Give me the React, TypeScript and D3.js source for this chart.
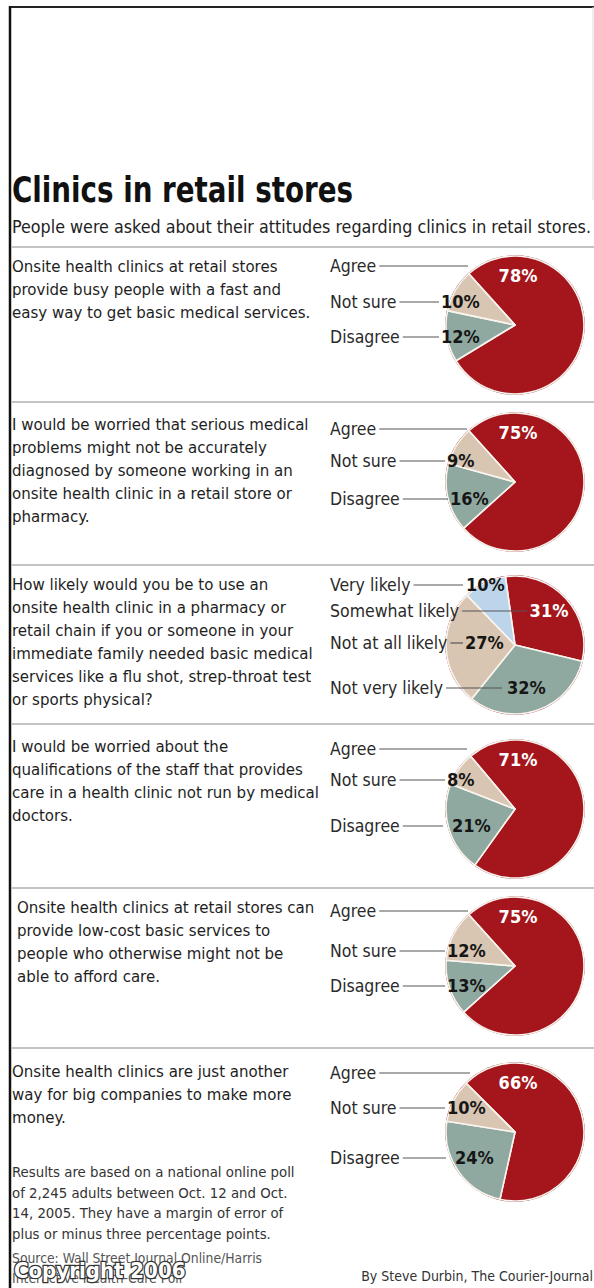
import React, { useEffect, useRef } from 'react';
import * as d3 from 'd3';

const TITLE = 'Clinics in retail stores';
const SUBTITLE = 'People were asked about their attitudes regarding clinics in retail stores.';

const QUESTIONS: string[][] = [
  ['Onsite health clinics at retail stores', 'provide busy people with a fast and', 'easy way to get basic medical services.'],
  ['I would be worried that serious medical', 'problems might not be accurately', 'diagnosed by someone working in an', 'onsite health clinic in a retail store or', 'pharmacy.'],
  ['How likely would you be to use an', 'onsite health clinic in a pharmacy or', 'retail chain if you or someone in your', 'immediate family needed basic medical', 'services like a flu shot, strep-throat test', 'or sports physical?'],
  ['I would be worried about the', 'qualifications of the staff that provides', 'care in a health clinic not run by medical', 'doctors.'],
  ['Onsite health clinics at retail stores can', 'provide low-cost basic services to', 'people who otherwise might not be', 'able to afford care.'],
  ['Onsite health clinics are just another', 'way for big companies to make more', 'money.'],
];

const AGREE_CATEGORIES = ['Agree', 'Not sure', 'Disagree'];
const LIKELY_CATEGORIES = ['Very likely', 'Somewhat likely', 'Not at all likely', 'Not very likely'];

const Q1_VALUES = [78, 10, 12];
const Q2_VALUES = [75, 9, 16];
const Q3_VALUES = [10, 31, 27, 32];
const Q4_VALUES = [71, 8, 21];
const Q5_VALUES = [75, 12, 13];
const Q6_VALUES = [66, 10, 24];

const FOOTNOTE = [
  'Results are based on a national online poll',
  'of 2,245 adults between Oct. 12 and Oct.',
  '14, 2005. They have a margin of error of',
  'plus or minus three percentage points.',
];
const SOURCE = ['Source: Wall Street Journal Online/Harris', 'Interactive Health-Care Poll'];
const COPYRIGHT = 'Copyright 2006';
const CREDIT = 'By Steve Durbin, The Courier-Journal';

// styling / layout (not data)
const RED = '#a5161c';
const BEIGE = '#d8c5b2';
const TEAL = '#8fa9a0';
const BLUE = '#bcd5ea';
const AGREE_COLORS = [RED, BEIGE, TEAL];
const LIKELY_COLORS = [BLUE, RED, BEIGE, TEAL];
const AGREE_ORDER = [0, 2, 1]; // clockwise from start
const LIKELY_ORDER = [1, 3, 2, 0];

const FONT = "'Liberation Sans Narrow', 'DejaVu Sans Condensed', 'DejaVu Sans', sans-serif";

type Section = {
  top: number; textY: number; textX: number; cy: number; startDeg: number;
  labelY: number[]; pctX: number[]; redIdx: number; lineEnd: number[];
};

const SECTIONS: Section[] = [
  { top: 247, textY: 272, textX: 12, cy: 325, startDeg: -42, labelY: [266, 302, 337], pctX: [0, 441, 441], redIdx: 0, lineEnd: [468, 439, 439] },
  { top: 402, textY: 430, textX: 12, cy: 482, startDeg: -42, labelY: [429, 461, 499], pctX: [0, 447, 450], redIdx: 0, lineEnd: [467, 445, 448] },
  { top: 565, textY: 590, textX: 12, cy: 645, startDeg: -8, labelY: [585, 611, 643, 688], pctX: [466, 0, 465, 507], redIdx: 1, lineEnd: [463, 527, 463, 502] },
  { top: 724, textY: 752, textX: 12, cy: 809, startDeg: -40, labelY: [749, 780, 826], pctX: [0, 447, 452], redIdx: 0, lineEnd: [467, 445, 443] },
  { top: 888, textY: 913, textX: 17, cy: 966, startDeg: -42, labelY: [911, 951, 986], pctX: [0, 447, 447], redIdx: 0, lineEnd: [468, 445, 445] },
  { top: 1048, textY: 1077, textX: 12, cy: 1132, startDeg: -45, labelY: [1073, 1108, 1158], pctX: [0, 447, 455], redIdx: 0, lineEnd: [470, 445, 446] },
];

const ALL_VALUES = [Q1_VALUES, Q2_VALUES, Q3_VALUES, Q4_VALUES, Q5_VALUES, Q6_VALUES];

export default function App() {
  const ref = useRef<SVGSVGElement>(null);

  useEffect(() => {
    const svg = d3.select(ref.current);
    svg.selectAll('*').remove();
    const W = 594, H = 1288;
    svg.append('rect').attr('width', W).attr('height', H).attr('fill', '#fff');

    // frame
    svg.append('line').attr('x1', 9).attr('x2', W).attr('y1', 7).attr('y2', 7).attr('stroke', '#222').attr('stroke-width', 2);
    svg.append('line').attr('x1', 10).attr('x2', 10).attr('y1', 6).attr('y2', H).attr('stroke', '#111').attr('stroke-width', 2.5);
    svg.append('line').attr('x1', 593).attr('x2', 593).attr('y1', 7).attr('y2', 200).attr('stroke', '#ddd').attr('stroke-width', 1);

    svg.append('text').attr('x', 12).attr('y', 202).text(TITLE)
      .attr('font-family', FONT).attr('font-weight', 'bold').attr('font-size', 36).attr('fill', '#111')
      .attr('textLength', 341).attr('lengthAdjust', 'spacingAndGlyphs');
    svg.append('text').attr('x', 12).attr('y', 233).text(SUBTITLE)
      .attr('font-family', FONT).attr('font-size', 17).attr('fill', '#222')
      .attr('textLength', 579).attr('lengthAdjust', 'spacingAndGlyphs');

    const pieMaker = d3.pie<number>().sort(null).value((d) => d);
    const R = 69;
    const arc = d3.arc<d3.PieArcDatum<number>>().innerRadius(0).outerRadius(R);

    SECTIONS.forEach((s, si) => {
      const values = ALL_VALUES[si];
      const isLikely = values.length === 4;
      const cats = isLikely ? LIKELY_CATEGORIES : AGREE_CATEGORIES;
      const colors = isLikely ? LIKELY_COLORS : AGREE_COLORS;
      const order = isLikely ? LIKELY_ORDER : AGREE_ORDER;

      svg.append('line').attr('x1', 12).attr('x2', W).attr('y1', s.top).attr('y2', s.top)
        .attr('stroke', '#c4c4c4').attr('stroke-width', 2);

      QUESTIONS[si].forEach((ln, i) => {
        svg.append('text').attr('x', s.textX).attr('y', s.textY + i * 23).text(ln)
          .attr('font-family', FONT).attr('font-size', 16.7).attr('fill', '#1e1e1e');
      });

      const a0 = (s.startDeg * Math.PI) / 180;
      const ordered = order.map((k) => values[k]);
      const arcs = pieMaker.startAngle(a0).endAngle(a0 + 2 * Math.PI)(ordered);
      const g = svg.append('g').attr('transform', `translate(515,${s.cy})`);
      g.append('circle').attr('r', R + 0.8).attr('fill', '#7a1014');
      g.selectAll('path.slice').data(arcs).enter().append('path')
        .attr('class', 'slice')
        .attr('d', (d) => arc(d) as string)
        .attr('fill', (d, i) => colors[order[i]])
        .attr('stroke', '#fbf5f0').attr('stroke-width', 1.6).attr('stroke-linejoin', 'round');

      // labels
      cats.forEach((c, k) => {
        const y = s.labelY[k];
        const t = svg.append('text').attr('x', 330).attr('y', y + 6).text(c)
          .attr('font-family', FONT).attr('font-size', 17.5).attr('fill', '#2a2a2a');
        const node = t.node() as SVGTextElement;
        const tw = node.getComputedTextLength();
        const x1 = 330 + tw + 3;
        const x2 = s.lineEnd[k];
        if (x2 > x1) {
          svg.append('line').attr('x1', x1).attr('x2', x2).attr('y1', y).attr('y2', y)
            .attr('stroke', '#555').attr('stroke-width', 1.2);
        }
        const pct = `${values[k]}%`;
        if (k === s.redIdx) {
          const px = isLikely ? 549 : 518;
          const py = isLikely ? y + 6 : s.cy - 43;
          svg.append('text').attr('x', px).attr('y', py).text(pct).attr('text-anchor', 'middle')
            .attr('font-family', FONT).attr('font-weight', 'bold').attr('font-size', 18).attr('fill', '#fff');
        } else {
          svg.append('text').attr('x', s.pctX[k]).attr('y', y + 6).text(pct)
            .attr('font-family', FONT).attr('font-weight', 'bold').attr('font-size', 18).attr('fill', '#161616');
        }
      });
    });

    FOOTNOTE.forEach((ln, i) => {
      svg.append('text').attr('x', 12).attr('y', 1177 + i * 20.5).text(ln)
        .attr('font-family', FONT).attr('font-size', 14.8).attr('fill', '#333');
    });
    SOURCE.forEach((ln, i) => {
      svg.append('text').attr('x', 12).attr('y', 1263 + i * 20).text(ln)
        .attr('font-family', FONT).attr('font-size', 13.8).attr('fill', '#555');
    });
    svg.append('text').attr('x', 14).attr('y', 1278).text(COPYRIGHT)
      .attr('font-family', FONT).attr('font-weight', 'bold').attr('font-size', 22)
      .attr('fill', '#fff').attr('stroke', '#333').attr('stroke-width', 2.5).attr('paint-order', 'stroke');
    svg.append('text').attr('x', 593).attr('y', 1281).text(CREDIT).attr('text-anchor', 'end')
      .attr('font-family', FONT).attr('font-size', 14).attr('fill', '#333');
  }, []);

  return <svg ref={ref} width={594} height={1288} style={{ position: 'absolute', left: 0, top: 0 }} />;
}
